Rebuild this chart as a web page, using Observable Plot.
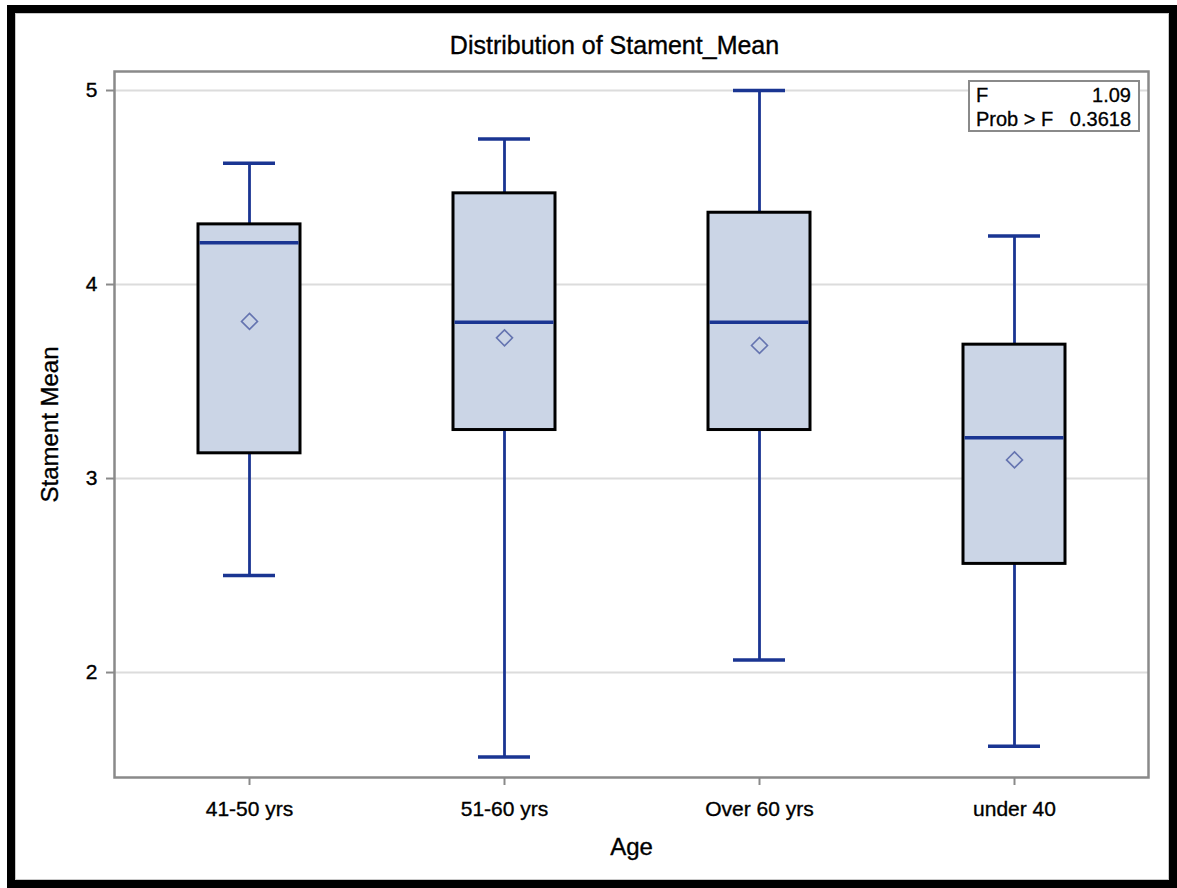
<!DOCTYPE html>
<html>
<head>
<meta charset="utf-8">
<script src="https://cdn.jsdelivr.net/npm/d3@7"></script>
<script src="https://cdn.jsdelivr.net/npm/@observablehq/plot@0.6"></script>
<style>
  html, body { margin: 0; padding: 0; background: #fff; }
  #wrap { position: relative; width: 1177px; height: 888px; overflow: hidden; background: #fff; }
  #border { position: absolute; left: 7px; top: 5px; right: 0; bottom: 0; border: 8px solid #000; box-sizing: border-box; pointer-events: none; }
  #border::after { content: ""; position: absolute; inset: 0; border: 1px solid #c8c8c8; }
  #chart { position: absolute; left: 0; top: 0; }
  #chart svg text { stroke: #000; stroke-width: 0.35px; }
  #stats { position: absolute; left: 968px; top: 80px; width: 172px; height: 52px; box-sizing: border-box;
           border: 2px solid #8a8a8a; background: #fff; font-family: "Liberation Sans", Arial, sans-serif;
           font-size: 20px; line-height: 24px; color: #000; padding: 1px 7px 0 6px;
           -webkit-text-stroke: 0.3px #000; }
  #stats .row { display: flex; justify-content: space-between; }
</style>
</head>
<body>
<div id="wrap">
  <div id="chart"></div>
  <div id="stats"></div>
  <div id="border"></div>
</div>
<script>
// ---- data ----
const ages = ["41-50 yrs", "51-60 yrs", "Over 60 yrs", "under 40"];
const minVals = [2.5, 1.565, 2.065, 1.62];
const q1Vals = [3.13, 3.25, 3.25, 2.56];
const medianVals = [4.215, 3.805, 3.805, 3.21];
const meanVals = [3.81, 3.725, 3.686, 3.096];
const q3Vals = [4.31, 4.47, 4.37, 3.69];
const maxVals = [4.625, 4.75, 5.0, 4.25];
const yTicks = [2, 3, 4, 5];
const statLabels = ["F", "Prob > F"];
const statValues = ["1.09", "0.3618"];
const titleText = "Distribution of Stament_Mean";
const xLabel = "Age";
const yLabel = "Stament Mean";

const data = ages.map((a, i) => ({
  age: a, min: minVals[i], q1: q1Vals[i], med: medianVals[i],
  mean: meanVals[i], q3: q3Vals[i], max: maxVals[i]
}));

const navy = "#1a3592";
const font = "'Liberation Sans', Arial, sans-serif";

const plot = Plot.plot({
  width: 1177,
  height: 888,
  marginLeft: 114,
  marginRight: 29,
  marginTop: 71,
  marginBottom: 111,
  style: { background: "transparent", fontFamily: font, fontSize: "21px", color: "#000", overflow: "visible" },
  x: { type: "band", domain: ages, paddingInner: 0.6, paddingOuter: 0.325, label: null },
  y: { domain: [1.459, 5.098], ticks: yTicks },
  marks: [
    Plot.gridY(yTicks, { stroke: "#dcdcdc", strokeOpacity: 1, strokeWidth: 2 }),
    Plot.ruleX(data, { x: "age", y1: "min", y2: "max", stroke: navy, strokeWidth: 2.8 }),
    Plot.tickY(data, { x: "age", y: "max", inset: 25, stroke: navy, strokeWidth: 3.5 }),
    Plot.tickY(data, { x: "age", y: "min", inset: 25, stroke: navy, strokeWidth: 3.5 }),
    Plot.barY(data, { x: "age", y1: "q1", y2: "q3", fill: "#cbd5e6", stroke: "#000", strokeWidth: 3 }),
    Plot.tickY(data, { x: "age", y: "med", stroke: navy, strokeWidth: 3.5, insetLeft: 1.5, insetRight: 1.5 }),
    Plot.dot(data, { x: "age", y: "mean", symbol: "diamond2", r: 7.2, stroke: "#6574b0", strokeWidth: 1.6, fill: "none" }),
    Plot.frame({ stroke: "#8a8a8a", strokeWidth: 2.5 }),
    Plot.axisY(yTicks, {
      tickSize: 8, tickPadding: 9, stroke: "#8a8a8a", strokeWidth: 2, fill: "#000", fontSize: 21,
      tickFormat: "d",
      label: yLabel, labelAnchor: "center", labelArrow: "none", labelOffset: 74
    }),
    Plot.axisX({
      tickSize: 8, tickPadding: 16, stroke: "#8a8a8a", strokeWidth: 2, fill: "#000", fontSize: 21,
      label: xLabel, labelAnchor: "center", labelArrow: "none", labelOffset: 77
    }),
    Plot.text([titleText], { frameAnchor: "top", lineAnchor: "bottom", dy: -18, dx: -17, fontSize: 25, fill: "#000" })
  ]
});

// larger axis titles
plot.querySelectorAll("[aria-label='y-axis label'], [aria-label='x-axis label']").forEach(g => g.setAttribute("font-size", "24"));
document.getElementById("chart").appendChild(plot);

const stats = document.getElementById("stats");
statLabels.forEach((lab, i) => {
  const row = document.createElement("div");
  row.className = "row";
  const a = document.createElement("span"); a.textContent = lab;
  const b = document.createElement("span"); b.textContent = statValues[i];
  row.appendChild(a); row.appendChild(b);
  stats.appendChild(row);
});
</script>
</body>
</html>
